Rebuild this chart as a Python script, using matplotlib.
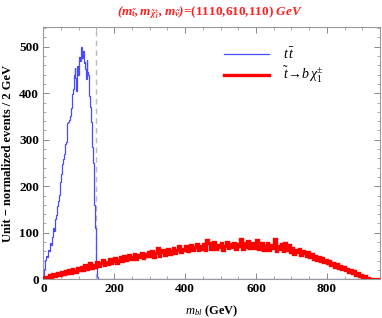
import numpy as np
import matplotlib
matplotlib.use("Agg")
import matplotlib.pyplot as plt

plt.rcParams['font.family'] = 'Liberation Serif'
plt.rcParams['mathtext.fontset'] = 'custom'
plt.rcParams['mathtext.rm'] = 'Liberation Serif'
plt.rcParams['mathtext.it'] = 'Liberation Serif:italic'
plt.rcParams['mathtext.bf'] = 'Liberation Serif:bold'
plt.rcParams['mathtext.bfit'] = 'Liberation Serif:bold:italic'

# ttbar: 2 GeV bins from 0 to 154 GeV
ttbar_width = 2
ttbar_vals = [8, 22, 38, 42, 50, 47, 55, 62, 60, 70,
              78, 74, 90, 97, 110, 104, 123, 130, 138, 150,
              158, 168, 182, 195, 210, 226, 232, 248, 258, 270,
              276, 290, 295, 318, 335, 338, 342, 348, 352, 368,
              372, 398, 410, 440, 455, 432, 405, 445, 458, 440,
              462, 478, 470, 500, 482, 476, 490, 465, 468, 452,
              430, 472, 445, 440, 412, 395, 370, 338, 318, 285,
              250, 220, 160, 110, 60, 25, 5]

# stop -> b chi: 5 GeV bins from 0 to 950 GeV
stop_width = 5
stop_vals = [2, 6, 3, 9, 5, 12, 7, 10, 14, 9,
             16, 11, 18, 13, 20, 14, 22, 17, 15, 24,
             19, 27, 21, 30, 23, 26, 34, 24, 31, 27,
             37, 29, 35, 41, 30, 38, 33, 43, 34, 40,
             45, 36, 42, 48, 39, 50, 41, 46, 52, 43,
             49, 54, 44, 52, 47, 57, 46, 55, 50, 58,
             51, 60, 48, 56, 68, 50, 58, 64, 53, 59,
             66, 55, 61, 68, 57, 64, 72, 58, 66, 62,
             71, 60, 67, 74, 62, 70, 76, 64, 72, 66,
             75, 63, 84, 78, 65, 73, 80, 66, 74, 69,
             77, 64, 72, 81, 67, 75, 70, 79, 65, 76,
             71, 86, 66, 78, 69, 82, 67, 74, 79, 68,
             84, 65, 73, 79, 63, 71, 77, 62, 74, 68,
             86, 61, 72, 66, 75, 60, 78, 64, 73, 58,
             68, 55, 63, 58, 65, 52, 60, 56, 50, 58,
             47, 54, 44, 51, 42, 48, 39, 45, 37, 42,
             34, 39, 30, 35, 27, 32, 24, 29, 22, 26,
             19, 23, 16, 20, 13, 17, 10, 13, 8, 10,
             5, 7, 3, 2, 0, 0, 0, 0, 0, 0]

x_max = 950
y_max = 543
cut = 150
xticks = [0, 200, 400, 600, 800]
yticks = [0, 100, 200, 300, 400, 500]

fig = plt.figure(figsize=(3.82, 3.18), dpi=100)
ax = fig.add_axes([0.1134, 0.1217, 0.995 - 0.1134, 0.916 - 0.1217])

t_edges = np.concatenate([np.arange(len(ttbar_vals) + 1) * ttbar_width, [x_max]])
ax.stairs(ttbar_vals + [0], t_edges, color='#4a4aff', lw=0.9, label=r'$t\,\bar{t}$', zorder=3)
s_edges = np.arange(len(stop_vals) + 1) * stop_width
ax.stairs(stop_vals, s_edges, color='#ff0000', lw=2.4, label=r'$\tilde{t}\!\rightarrow\! b\,\chi_1^{\pm}$', zorder=4)
ax.axvline(cut, color='#bbbbbb', ls=(0, (4, 3)), lw=1.0, zorder=2)

ax.set_xlim(0, x_max)
ax.set_ylim(0, y_max)
ax.set_xticks(xticks)
ax.set_yticks(yticks)
ax.set_xticks(np.arange(0, x_max + 1, 50), minor=True)
ax.set_yticks(np.arange(0, y_max, 20), minor=True)
ax.tick_params(which='both', direction='in', top=True, right=True, color='#888888')
ax.tick_params(which='major', length=4, width=0.7, labelsize=9.5, pad=3)
ax.tick_params(which='minor', length=2, width=0.5)
for lab in ax.get_xticklabels() + ax.get_yticklabels():
    lab.set_fontweight('bold')
for sp in ax.spines.values():
    sp.set_color('#999999')
    sp.set_linewidth(0.8)

ax.set_xlabel(r'$m_{bl}$ (GeV)', fontsize=9, fontweight='bold', labelpad=6)
ax.set_ylabel('Unit \u2212 normalized events / 2 GeV', fontsize=9, fontweight='bold', labelpad=4)

fig.text(0.55, 0.962,
         r'$\mathbfit{(m_{\tilde{t}},m_{\tilde{\chi}_1^{\pm}},m_{\tilde{\nu}})}$'
         r'=(1110,610,110) $\mathbfit{GeV}$',
         color='#ff2020', fontsize=9.5, fontweight='bold',
         ha='center', va='center')

leg = ax.legend(loc='upper left', bbox_to_anchor=(0.5, 0.97), frameon=False,
                fontsize=10, handlelength=3.2, handletextpad=1.0, labelspacing=0.2)

fig.savefig('out.png', dpi=100)
